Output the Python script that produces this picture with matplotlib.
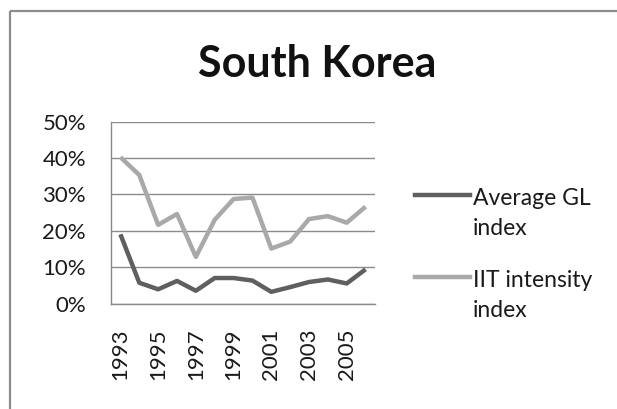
#!/usr/bin/env python3
import matplotlib
matplotlib.use("Agg")
import matplotlib.pyplot as plt
from matplotlib.lines import Line2D
import numpy as np

plt.rcParams["font.family"] = ["Lato", "DejaVu Sans"]

years = [1993, 1994, 1995, 1996, 1997, 1998, 1999,
         2000, 2001, 2002, 2003, 2004, 2005, 2006]
avg_gl = [19.0, 5.7, 3.9, 6.2, 3.5, 7.0, 7.0, 6.3, 3.2, 4.5, 5.9, 6.6, 5.5, 9.4]
iit_intensity = [40.2, 35.3, 21.6, 24.6, 12.8, 23.0, 28.7, 29.1, 15.1, 17.0,
                 23.2, 24.0, 22.2, 26.6]
series_labels = [["Average GL", "index"], ["IIT intensity", "index"]]
series_colors = ["#5f5f5f", "#a9a9a9"]
y_ticks = [0, 10, 20, 30, 40, 50]

W, H = 617, 409
fig = plt.figure(figsize=(W / 100, H / 100), dpi=100)
ax = fig.add_axes([111 / W, 1 - 303.5 / H, 264 / W, (303.5 - 121.5) / H])

x = np.arange(len(years))
lines = []
for vals, color in zip([avg_gl, iit_intensity], series_colors):
    (ln,) = ax.plot(x, vals, color=color, lw=3.2, solid_joinstyle="round",
                    solid_capstyle="butt", clip_on=False, zorder=3)
    lines.append(ln)

ax.set_xlim(-0.5, len(years) - 0.5)
ax.set_ylim(0, 50)
ax.set_yticks(y_ticks)
ax.set_yticklabels([f"{v}%" for v in y_ticks])
ax.set_xticks(x[::2])
ax.set_xticklabels([str(y) for y in years[::2]], rotation=90)
ax.tick_params(axis="both", length=0, labelsize=16, colors="#1a1a1a")
ax.tick_params(axis="y", pad=18)
ax.tick_params(axis="x", pad=18)

ax.grid(axis="y", color="#8a8a8a", lw=1.0)
ax.set_axisbelow(True)
for side in ["top", "right"]:
    ax.spines[side].set_visible(False)
for side in ["left", "bottom"]:
    ax.spines[side].set_color("#8a8a8a")
    ax.spines[side].set_linewidth(1.0)

# title
fig.text(317 / W, 1 - 77 / H, "South Korea", ha="center", va="baseline",
         fontsize=31, fontweight="bold", color="#111111")

# legend, drawn by hand so the line sits on the first text row
for ln, label, ly in zip(lines, series_labels, [195, 277]):
    fig.add_artist(Line2D([415 / W, 470 / W], [1 - ly / H, 1 - ly / H],
                          color=ln.get_color(), lw=3.2))
    for i, part in enumerate(label):
        fig.text(473 / W, 1 - (ly + 10 + 30 * i) / H, part, ha="left",
                 va="baseline", fontsize=16.5, color="#1a1a1a")

# chart frame: only its left and top edges fall inside the crop
frame = dict(color="#8c8c8c", lw=1.6, solid_capstyle="butt",
             transform=fig.transFigure)
fig.add_artist(Line2D([10 / W, 10 / W], [-0.05, 1 - 11 / H], **frame))
fig.add_artist(Line2D([10 / W, 1.05], [1 - 11 / H, 1 - 11 / H], **frame))

fig.savefig("out.png", dpi=100)
